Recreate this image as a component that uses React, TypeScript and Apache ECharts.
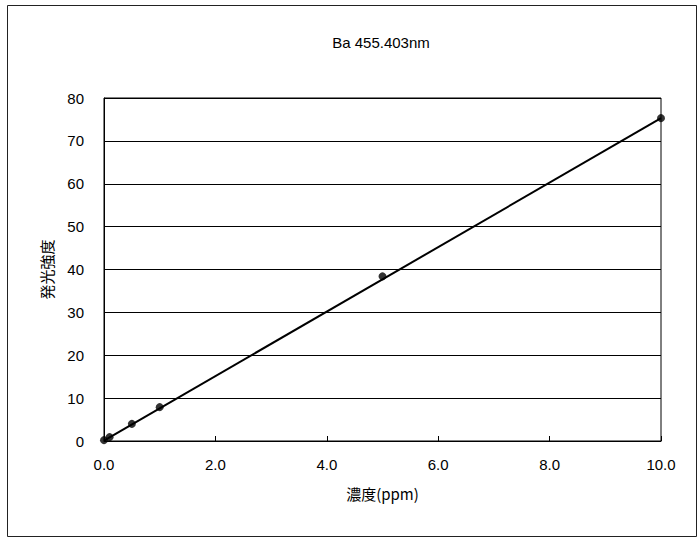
import React, { useEffect, useRef } from "react";
import * as echarts from "echarts";

const titleText = "Ba 455.403nm";
const xName = "濃度(ppm)";
const yName = "発光強度";
const concentrations = [0, 0.1, 0.5, 1.0, 5.0, 10.0];
const intensities = [0.2, 0.9, 4.0, 7.9, 38.4, 75.3];
const trendX = [0, 10];
const trendY = [0.1, 75.3];

export default function App() {
  const ref = useRef<HTMLDivElement>(null);
  useEffect(() => {
    if (!ref.current) return;
    const chart = echarts.init(ref.current, null, { renderer: "svg" });
    const font = "'Liberation Sans', Arial, sans-serif";
    const cjk = "'Noto Sans CJK JP', sans-serif";
    chart.setOption({
      animation: false,
      backgroundColor: "#fff",
      title: {
        text: titleText,
        left: 376,
        top: 30,
        textAlign: "center",
        textStyle: { fontFamily: font, fontSize: 15, fontWeight: "normal", color: "#000" },
      },
      graphic: [
        {
          type: "rect",
          shape: { x: 7.5, y: 5.5, width: 689, height: 531 },
          style: { fill: "none", stroke: "#222", lineWidth: 1 },
        },
      ],
      grid: { left: 104, right: 38, top: 98, bottom: 99, show: true, borderColor: "#000", borderWidth: 1 },
      xAxis: {
        type: "value",
        min: 0,
        max: 10,
        interval: 2,
        name: xName,
        nameLocation: "middle",
        nameGap: 45,
        nameTextStyle: { fontFamily: cjk, fontSize: 15, color: "#000" },
        axisLine: { show: true, lineStyle: { color: "#000" } },
        axisTick: { show: true, inside: true, length: 5, lineStyle: { color: "#000" } },
        axisLabel: {
          fontFamily: font,
          fontSize: 15,
          color: "#000",
          margin: 16,
          formatter: (v: number) => v.toFixed(1),
        },
        splitLine: { show: false },
      },
      yAxis: {
        type: "value",
        min: 0,
        max: 80,
        interval: 10,
        name: yName,
        nameLocation: "middle",
        nameGap: 50,
        nameRotate: 90,
        nameTextStyle: { fontFamily: cjk, fontSize: 15, color: "#000" },
        axisLine: { show: true, lineStyle: { color: "#000" } },
        axisTick: { show: false },
        axisLabel: { fontFamily: font, fontSize: 15, color: "#000", margin: 20 },
        splitLine: { show: true, lineStyle: { color: "#000", width: 1 } },
      },
      series: [
        {
          type: "line",
          data: trendX.map((x, i) => [x, trendY[i]]),
          showSymbol: false,
          lineStyle: { color: "#000", width: 2 },
          silent: true,
          z: 2,
        },
        {
          type: "scatter",
          data: concentrations.map((x, i) => [x, intensities[i]]),
          symbol: "circle",
          symbolSize: 8,
          itemStyle: { color: "#000" },
          z: 3,
        },
      ],
    });
    return () => chart.dispose();
  }, []);
  return (
    <div
      ref={ref}
      style={{ position: "fixed", left: 0, top: 0, width: 699, height: 540, background: "#fff" }}
    />
  );
}
